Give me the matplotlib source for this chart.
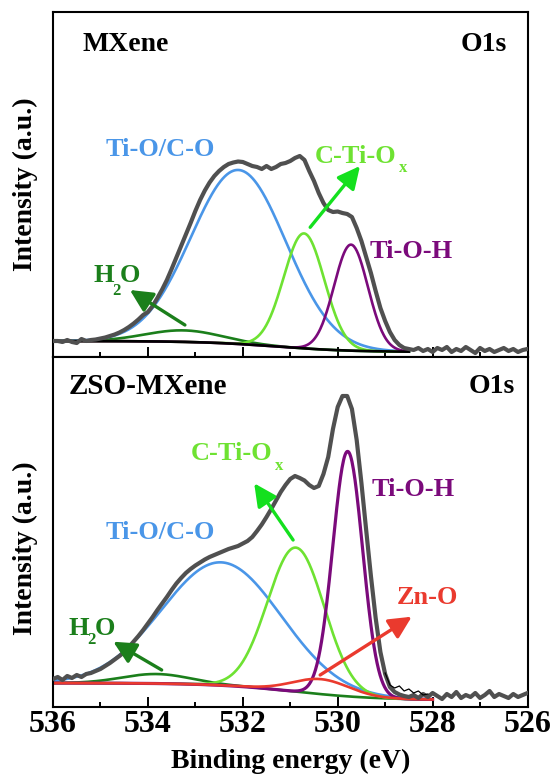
import numpy as np
import matplotlib
matplotlib.use("Agg")
import matplotlib.pyplot as plt
from matplotlib.ticker import MultipleLocator

plt.rcParams['font.family'] = ['Liberation Serif', 'DejaVu Serif']
plt.rcParams['font.weight'] = 'bold'

# ---------------- measured O1s spectra (536.0 -> 526.0 eV, 0.1 eV step) ----------------
energy = np.round(np.linspace(536.0, 526.0, 101), 1)

mxene_counts = [
    16, 16, 15, 17, 15, 14, 18, 16, 17, 17.5,
    18.5, 19.5, 21, 22.5, 24.5, 27, 30, 33.5, 37.5, 42,
    45, 51, 59, 67.5, 77, 88, 99.5, 111, 122.5, 134,
    146, 157, 166.5, 174.5, 181, 186, 190, 193, 194.5, 195.5,
    195, 193, 191, 190, 188, 191, 188, 190, 193, 194,
    196, 199, 201, 197, 186, 176, 164, 154, 147, 145,
    145.5, 144, 143, 140, 129, 116, 100, 84, 66, 49,
    36, 25, 17, 12, 9, 8, 7, 9, 6, 8,
    5, 9, 7, 10, 5, 8, 6, 10, 7, 4,
    9, 6, 8, 5, 7, 9, 6, 8, 5, 7,
    8,
]

zso_counts = [
    28, 30, 27, 31, 29, 32, 30, 33, 34, 36,
    38, 41, 44, 47.5, 51, 55, 60, 65.5, 71, 77,
    83.5, 90, 97, 103.5, 110, 117, 123.5, 129, 134, 138,
    141.5, 144.5, 147.5, 150, 152, 154, 156, 158, 159.5, 161,
    163.5, 166, 170, 176, 182.5, 190, 198, 206.5, 215, 222,
    228, 231, 229, 226.5, 222, 219, 221, 233, 250, 278,
    300, 311, 311, 298, 267, 224, 177, 131, 89, 55,
    33, 20, 15, 12.5, 11, 10, 12, 9, 13, 10,
    14, 11, 8, 13, 10, 15, 9, 12, 10, 14,
    9, 12, 16, 10, 13, 11, 9, 13, 10, 12,
    14,
]

# unsmoothed counts at the low-energy foot of ZSO-MXene
zso_raw_energy = [529.0, 528.9, 528.8, 528.7, 528.6, 528.5, 528.4, 528.3, 528.2, 528.1]
zso_raw_counts = [34, 22, 19, 21, 16, 18, 14, 16, 12, 13]

# ---------------- fitted components: centre (eV), height, FWHM (eV) ----------------
mxene_peaks = ['H2O', 'Ti-O/C-O', 'C-Ti-Ox', 'Ti-O-H']
mxene_center = [533.25, 532.09, 530.71, 529.72]
mxene_height = [11.5, 174, 115, 106]
mxene_fwhm = [1.9, 2.35, 1.01, 0.84]
mxene_bg = [5, 16, 531.3, 0.8]          # low, high, step centre, step width

zso_peaks = ['H2O', 'Ti-O/C-O', 'C-Ti-Ox', 'Ti-O-H', 'Zn-O']
zso_center = [533.82, 532.45, 530.88, 529.79, 530.35]
zso_height = [9.5, 123, 144, 245, 15]
zso_fwhm = [1.7, 2.95, 1.41, 0.74, 1.4]
zso_bg = [7, 24, 530.9, 0.85]

colors = {
    'H2O': '#1b7f1b',
    'Ti-O/C-O': '#4a96e8',
    'C-Ti-Ox': '#6ee232',
    'Ti-O-H': '#7b0a7b',
    'Zn-O': '#ea3a2e',
}
arrow_green = '#14e01e'
data_color = '#505050'


def gauss(e, c, h, fwhm):
    s = fwhm / 2.3548
    return h * np.exp(-0.5 * ((e - c) / s) ** 2)


def shirley_like(e, low, high, mid, width):
    return low + (high - low) / (1.0 + np.exp(-(e - mid) / width))


fig = plt.figure(figsize=(5.58, 7.78), dpi=100)
W, H = 558.0, 778.0
ax1 = fig.add_axes([53 / W, 1 - 357 / H, 474.5 / W, 345 / H])
ax2 = fig.add_axes([53 / W, 1 - 707 / H, 474.5 / W, 350 / H])

for ax in (ax1, ax2):
    ax.set_xlim(536, 526)
    ax.xaxis.set_major_locator(MultipleLocator(2))
    ax.xaxis.set_minor_locator(MultipleLocator(1))
    ax.tick_params(axis='x', which='major', direction='in', length=7, width=1.4,
                   top=False, labelsize=23, pad=2)
    ax.tick_params(axis='x', which='minor', direction='in', length=3.5, width=1.4, top=False)
    ax.set_yticks([])
    for sp in ax.spines.values():
        sp.set_linewidth(1.5)
ax1.tick_params(axis='x', which='both', labelbottom=False)
ax1.set_ylim(0, 345)
ax2.set_ylim(0, 350)

# ---------------- MXene ----------------
e1 = np.linspace(536.0, 528.5, 500)
bg1 = shirley_like(e1, *mxene_bg)
for name, c, h, w in zip(mxene_peaks, mxene_center, mxene_height, mxene_fwhm):
    ax1.plot(e1, bg1 + gauss(e1, c, h, w), color=colors[name], lw=1.9, zorder=2)
ax1.plot(e1, bg1, color='black', lw=1.9, zorder=3)
ax1.plot(energy, mxene_counts, color=data_color, lw=3.0, zorder=4, solid_joinstyle='round')

# ---------------- ZSO-MXene ----------------
e2 = np.linspace(536.0, 528.0, 500)
bg2 = shirley_like(e2, *zso_bg)
for name, c, h, w in zip(zso_peaks, zso_center, zso_height, zso_fwhm):
    lw = 2.3 if name == 'Ti-O-H' else 1.9
    ax2.plot(e2, bg2 + gauss(e2, c, h, w), color=colors[name], lw=lw, zorder=2)
ax2.plot(energy, zso_counts, color=data_color, lw=3.0, zorder=4, solid_joinstyle='round')
ax2.plot(zso_raw_energy, zso_raw_counts, color='black', lw=0.9, zorder=5)

ax2.set_xlabel('Binding energy (eV)', fontsize=20, fontweight='bold', labelpad=7)

# panel titles
ax1.text(0.063, 0.907, 'MXene', transform=ax1.transAxes, fontsize=20,
         ha='left', va='center')
ax1.text(0.957, 0.907, 'O1s', transform=ax1.transAxes, fontsize=20,
         ha='right', va='center')
ax2.text(0.032, 0.917, 'ZSO-MXene', transform=ax2.transAxes, fontsize=21,
         ha='left', va='center')
ax2.text(0.974, 0.917, 'O1s', transform=ax2.transAxes, fontsize=20,
         ha='right', va='center')

for yc in (184.5, 548):
    fig.text(25 / W, 1 - yc / H, 'Intensity (a.u.)', rotation=90, fontsize=20,
             ha='center', va='center')


def arrow(ax, tail, tip, color):
    ax.annotate('', xy=tip, xytext=tail,
                arrowprops=dict(arrowstyle='-|>,head_length=0.85,head_width=0.42',
                                color=color, lw=2.4, mutation_scale=16,
                                shrinkA=0, shrinkB=0), zorder=6)


def label(ax, x, y, s, color, **kw):
    ax.text(x, y, s, color=color, fontsize=19, **kw)


def sub(ax, x, y, s, color):
    ax.text(x, y, s, color=color, fontsize=12, ha='left', va='baseline')


# peak labels, MXene
label(ax1, 533.74, 208, 'Ti-O/C-O', colors['Ti-O/C-O'], ha='center', va='center')
label(ax1, 530.48, 194, 'C-Ti-O', colors['C-Ti-Ox'], ha='left', va='baseline')
sub(ax1, 528.71, 185, 'x', colors['C-Ti-Ox'])
label(ax1, 529.32, 105, 'Ti-O-H', colors['Ti-O-H'], ha='left', va='center')
label(ax1, 535.15, 75, 'H', colors['H2O'], ha='left', va='baseline')
sub(ax1, 534.76, 62, '2', colors['H2O'])
label(ax1, 534.60, 75, 'O', colors['H2O'], ha='left', va='baseline')
arrow(ax1, (533.22, 32), (534.38, 67), colors['H2O'])
arrow(ax1, (530.58, 129.7), (529.53, 191), arrow_green)

# peak labels, ZSO-MXene
label(ax2, 533.74, 174.5, 'Ti-O/C-O', colors['Ti-O/C-O'], ha='center', va='center')
label(ax2, 533.09, 247, 'C-Ti-O', colors['C-Ti-Ox'], ha='left', va='baseline')
sub(ax2, 531.33, 237, 'x', colors['C-Ti-Ox'])
label(ax2, 529.28, 217.5, 'Ti-O-H', colors['Ti-O-H'], ha='left', va='center')
label(ax2, 528.76, 110, 'Zn-O', colors['Zn-O'], ha='left', va='center')
label(ax2, 535.68, 72, 'H', colors['H2O'], ha='left', va='baseline')
sub(ax2, 535.27, 63, '2', colors['H2O'])
label(ax2, 535.11, 72, 'O', colors['H2O'], ha='left', va='baseline')
arrow(ax2, (533.71, 37), (534.73, 65.3), colors['H2O'])
arrow(ax2, (530.94, 167), (531.76, 223.7), arrow_green)
arrow(ax2, (530.37, 32), (528.44, 90.3), colors['Zn-O'])

fig.savefig('out.png', dpi=100)
